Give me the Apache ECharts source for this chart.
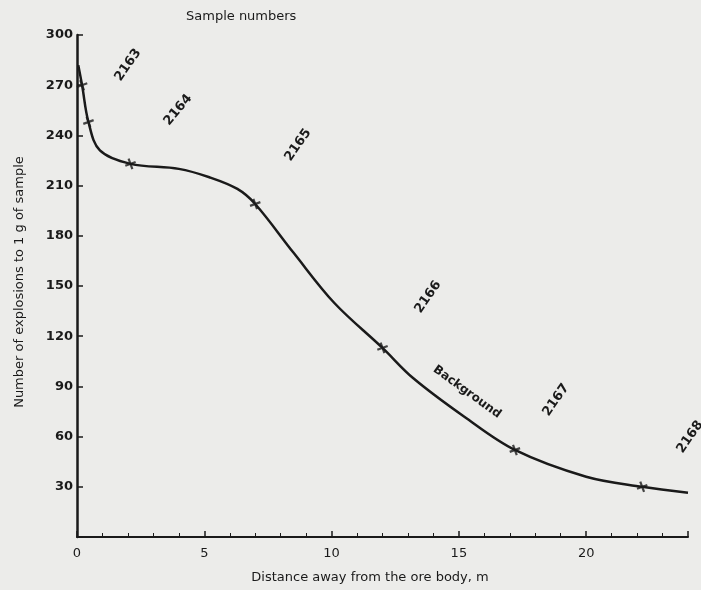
<!DOCTYPE html>
<html>
<head>
<meta charset="utf-8">
<script src="https://cdn.jsdelivr.net/npm/echarts@6/dist/echarts.min.js"></script>
<style>
  html, body { margin: 0; padding: 0; background: #ececea; }
  #main { width: 701px; height: 590px; }
</style>
</head>
<body>
<div id="main"></div>
<script>
// curve (distance m, explosions per 1 g)
var curveX = [0.05, 0.2, 0.45, 0.9, 2.1, 4, 5.2, 6.3, 7, 8.5, 10.1, 12, 13.2, 15.2, 17.2, 20, 22.2, 24];
var curveY = [282, 270, 248, 231, 223, 220, 215, 208, 199, 170, 140, 113, 95, 72, 52, 36, 30, 26.5];
// sample points (cross marks)
var sampleX = [0.2, 0.45, 2.1, 7, 12, 17.2, 22.2];
var sampleY = [270, 248, 223, 199, 113, 52, 30];
var yTicks = [30, 60, 90, 120, 150, 180, 210, 240, 270, 300];
var xTicks = [0, 5, 10, 15, 20];

var chart = echarts.init(document.getElementById('main'));
var ink = '#1a1a1a';
var font = 'DejaVu Sans';

var curve = curveX.map(function (x, i) { return [x, curveY[i]]; });
var samples = sampleX.map(function (x, i) { return [x, sampleY[i]]; });

// rotated annotation labels
function label(text, x, y, rot, size) {
    return {
        type: 'text', x: x, y: y, rotation: rot * Math.PI / 180,
        style: {
            text: text, fill: ink, font: 'bold ' + (size || 13) + 'px ' + font,
            textAlign: 'center', textVerticalAlign: 'middle'
        }
    };
}

var option = {
    backgroundColor: '#ececea',
    animation: false,
    grid: { left: 77, right: 13, top: 35, bottom: 53 },
    xAxis: {
        type: 'value', min: 0, max: 24, interval: 5,
        axisLine: { lineStyle: { color: ink, width: 2 } },
        axisTick: { inside: true, length: 6, lineStyle: { color: ink, width: 1.5 } },
        minorTick: { show: true, splitNumber: 5, length: 4, lineStyle: { color: ink } },
        splitLine: { show: false },
        axisLabel: {
            color: ink, fontFamily: font, fontSize: 13, margin: 10,
            formatter: function (v) { return xTicks.indexOf(v) >= 0 ? v : ''; }
        }
    },
    yAxis: {
        type: 'value', min: 0, max: 300, interval: 30,
        axisLine: { show: true, lineStyle: { color: ink, width: 2.5 } },
        axisTick: { inside: true, length: 6, lineStyle: { color: ink, width: 1.5 } },
        splitLine: { show: false },
        axisLabel: {
            color: ink, fontFamily: font, fontSize: 13, fontWeight: 'bold', margin: 4,
            formatter: function (v) { return yTicks.indexOf(v) >= 0 ? v : ''; }
        }
    },
    graphic: [
        {
            type: 'text', left: 186, top: 10,
            style: { text: 'Sample numbers', fill: ink, font: '13px ' + font }
        },
        {
            type: 'text', x: 370, y: 578,
            style: { text: 'Distance away from the ore body, m', fill: ink, font: '13px ' + font, textAlign: 'center', textVerticalAlign: 'middle' }
        },
        {
            type: 'text', x: 20, y: 282, rotation: Math.PI / 2,
            style: { text: 'Number of explosions to 1 g of sample', fill: ink, font: '13px ' + font, textAlign: 'center', textVerticalAlign: 'middle' }
        },
        label('2163', 128, 65, 55),
        label('2164', 178, 110, 50),
        label('2165', 298, 145, 55),
        label('2166', 428, 297, 55),
        label('Background', 467, 392, -36, 12),
        label('2167', 556, 400, 55),
        label('2168', 690, 437, 55)
    ],
    series: [
        {
            type: 'line', data: curve, smooth: 0.35,
            showSymbol: false, lineStyle: { color: ink, width: 2.5 }
        },
        {
            type: 'scatter', data: samples,
            symbol: 'path://M4,0L6,0L6,4L10,4L10,6L6,6L6,10L4,10L4,6L0,6L0,4L4,4Z',
            symbolSize: 11, symbolRotate: 20,
            itemStyle: { color: ink }
        }
    ]
};
chart.setOption(option);
</script>
</body>
</html>
